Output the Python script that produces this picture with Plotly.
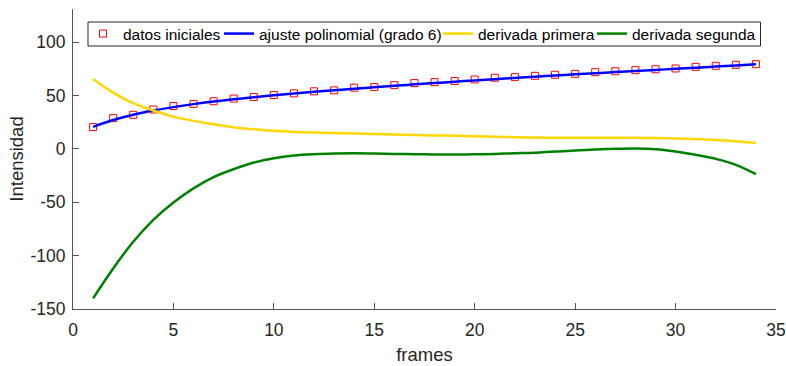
import plotly.graph_objects as go

frames = list(range(1, 35))
datos = [20.4, 28.8, 31.9, 36.9, 40.2, 42.1, 44.6, 47.1, 48.6, 50.5,
         52.0, 53.9, 54.8, 57.3, 57.9, 59.7, 61.6, 62.5, 63.5, 65.0,
         66.6, 67.2, 68.4, 69.4, 70.3, 71.8, 72.7, 73.7, 74.6, 75.3,
         76.8, 77.8, 78.7, 79.3]
ajuste = [20.6, 27.0, 32.0, 35.9, 39.1, 41.9, 44.3, 46.4, 48.4, 50.2,
          51.9, 53.4, 54.9, 56.3, 57.7, 59.0, 60.4, 61.6, 62.9, 64.1,
          65.3, 66.4, 67.6, 68.7, 69.8, 70.8, 71.9, 72.9, 73.9, 75.0,
          76.0, 77.1, 78.1, 79.2]
deriv1 = [65.5, 52.7, 42.8, 35.9, 30.2, 26.2, 23.1, 20.3, 18.4, 16.9,
          15.9, 15.3, 14.8, 14.4, 14.0, 13.5, 13.0, 12.6, 12.2, 11.7,
          11.3, 10.9, 10.6, 10.4, 10.3, 10.3, 10.3, 10.3, 10.1, 9.7,
          9.2, 8.4, 7.2, 5.6]
deriv2 = [-140.0, -112.0, -87.0, -66.5, -50.3, -37.0, -26.5, -19.0, -12.8, -8.7,
          -6.2, -5.0, -4.4, -4.2, -4.4, -4.7, -5.0, -5.3, -5.3, -5.1,
          -4.7, -4.1, -3.7, -2.4, -1.6, -0.7, 0.0, 0.3, -0.3, -2.5,
          -5.6, -9.4, -15.0, -23.7]

x_ticks = [0, 5, 10, 15, 20, 25, 30, 35]
y_ticks = [-150, -100, -50, 0, 50, 100]
y_labels = ["-150", "-100", "-50", "0", "50", "100"]

FONT = "Liberation Sans"

# plot area geometry (pixels)
W, H = 786, 366
ML, MR, MT, MB = 73, 10, 9, 57
PW, PH = W - ML - MR, H - MT - MB


def px_x(p):
    return (p - ML) / PW


def px_y(p):
    return (H - MB - p) / PH


fig = go.Figure()
fig.add_trace(go.Scatter(x=frames, y=datos, mode="markers", name="datos iniciales",
                         legend="legend",
                         marker=dict(symbol="square-open", size=7, color="#ff0000",
                                     line=dict(width=1, color="#ff0000"))))
fig.add_trace(go.Scatter(x=frames, y=ajuste, mode="lines", name="ajuste polinomial (grado 6)",
                         legend="legend2",
                         line=dict(color="#0000ff", width=2.5, shape="spline")))
fig.add_trace(go.Scatter(x=frames, y=deriv1, mode="lines", name="derivada primera",
                         legend="legend3",
                         line=dict(color="#ffd700", width=2.5, shape="spline")))
fig.add_trace(go.Scatter(x=frames, y=deriv2, mode="lines", name="derivada segunda",
                         legend="legend4",
                         line=dict(color="#008000", width=2.5, shape="spline")))

# legend frame
fig.add_shape(type="rect", xref="paper", yref="paper",
              x0=px_x(88), x1=px_x(760.5), y0=px_y(46), y1=px_y(22),
              line=dict(color="#262626", width=1), fillcolor="white", layer="above")

leg_common = dict(orientation="h", xanchor="left", yanchor="middle", y=px_y(34),
                  borderwidth=0, bgcolor="rgba(0,0,0,0)",
                  font=dict(family=FONT, size=15.5, color="#000000"), itemwidth=30)

fig.update_layout(
    width=W, height=H,
    margin=dict(l=ML, r=MR, t=MT, b=MB),
    paper_bgcolor="white", plot_bgcolor="white",
    font=dict(family=FONT, size=17.5, color="#262626"),
    showlegend=True,
    legend=dict(x=px_x(83), **leg_common),
    legend2=dict(x=px_x(219), **leg_common),
    legend3=dict(x=px_x(438), **leg_common),
    legend4=dict(x=px_x(592), **leg_common),
    xaxis=dict(range=[0, 35], tickvals=x_ticks, ticks="inside", ticklen=6,
               tickcolor="#555555", showline=True, linecolor="#555555", linewidth=1,
               showgrid=False, zeroline=False, ticklabelstandoff=5, automargin=False,
               title=dict(text="frames", font=dict(size=18.5, color="#262626"), standoff=9),
               tickfont=dict(size=17.5)),
    yaxis=dict(range=[-150, 131], tickvals=y_ticks, ticktext=y_labels, ticks="inside", ticklen=6,
               tickcolor="#555555", showline=True, linecolor="#555555", linewidth=1,
               showgrid=False, zeroline=False, ticklabelstandoff=3, automargin=False,
               title=dict(text="Intensidad", font=dict(size=18.5, color="#262626"), standoff=1),
               tickfont=dict(size=17.5)),
)

fig.write_html("out.html")
